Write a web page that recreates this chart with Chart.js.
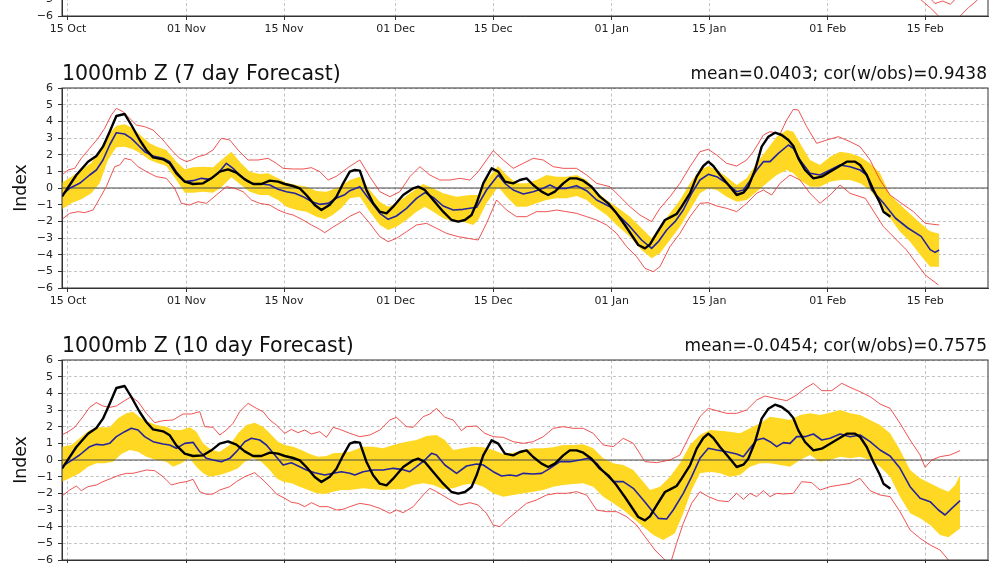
<!DOCTYPE html>
<html><head><meta charset="utf-8">
<script src="https://cdn.jsdelivr.net/npm/chart.js@4"></script>
<style>
html,body{margin:0;padding:0;background:#fff;overflow:hidden;width:1000px;height:563px;position:relative;}
.panel{position:absolute;left:0;width:1000px;height:272px;}
canvas{display:block;}
</style></head><body>
<div class="panel" style="top:-216px"><canvas id="c0" width="1000" height="272"></canvas></div>
<div class="panel" style="top:56px"><canvas id="c1" width="1000" height="272"></canvas></div>
<div class="panel" style="top:328px"><canvas id="c2" width="1000" height="272"></canvas></div>
<script>
// x = days since 15 Oct
const tickDays = [0, 17, 31, 47, 61, 78, 92, 109, 123];
const tickLabels = ['15 Oct', '01 Nov', '15 Nov', '01 Dec', '15 Dec', '01 Jan', '15 Jan', '01 Feb', '15 Feb'];
const xMin = -0.86, xMax = 132.0;

const titles = ['1000mb Z (7 day Forecast)', '1000mb Z (10 day Forecast)'];
const stats = ['mean=0.0403; cor(w/obs)=0.9438', 'mean=-0.0454; cor(w/obs)=0.7575'];

// observed index (black), same in both panels
const obs = [[-0.86,-0.52],[1.2,0.78],[2.87,1.58],[4.07,1.92],[5.02,2.48],[5.98,3.38],[6.94,4.32],[8.13,4.44],[9.09,3.78],[10.29,2.88],[11.24,2.28],[12.2,1.84],[13.64,1.72],[14.6,1.48],[15.55,0.88],[16.75,0.38],[17.94,0.24],[19.38,0.28],[20.57,0.58],[21.77,0.98],[22.97,1.12],[24.16,0.92],[25.36,0.52],[26.56,0.24],[27.75,0.24],[28.95,0.44],[30.14,0.38],[31.1,0.24],[32.3,0.12],[33.25,-0.02],[34.2,-0.42],[35.4,-1.02],[36.36,-1.32],[37.56,-1.0],[38.52,-0.52],[39.48,0.28],[40.43,0.98],[41.15,1.08],[41.87,1.04],[42.83,-0.12],[43.78,-0.92],[44.74,-1.42],[45.7,-1.52],[46.65,-1.12],[48.09,-0.42],[49.53,-0.02],[50.24,0.08],[51.2,-0.12],[52.4,-0.72],[53.83,-1.42],[55.03,-1.92],[55.99,-2.02],[56.95,-1.92],[57.9,-1.62],[58.62,-0.92],[59.58,0.28],[60.78,1.18],[61.73,0.98],[62.69,0.38],[63.88,0.28],[64.84,0.48],[65.8,0.58],[66.75,0.18],[67.95,-0.22],[68.9,-0.42],[69.86,-0.22],[71.06,0.28],[72.0,0.58],[72.97,0.58],[73.93,0.44],[75.12,0.08],[76.32,-0.52],[77.51,-0.92],[78.71,-1.52],[79.9,-2.22],[80.86,-2.82],[81.82,-3.42],[82.78,-3.62],[83.5,-3.38],[84.45,-2.72],[85.65,-1.92],[86.6,-1.72],[87.32,-1.56],[88.04,-1.12],[89.24,-0.32],[90.2,0.68],[91.15,1.32],[91.87,1.58],[92.59,1.32],[93.55,0.78],[94.98,0.08],[95.94,-0.42],[96.9,-0.28],[97.61,0.08],[98.57,1.08],[99.53,2.48],[100.49,3.08],[101.44,3.32],[102.4,3.18],[103.36,2.88],[104.07,2.52],[104.79,1.78],[105.75,1.08],[106.95,0.58],[108.14,0.68],[109.34,0.98],[110.54,1.28],[111.73,1.58],[112.93,1.58],[113.65,1.38],[114.6,0.78],[115.56,-0.12],[116.52,-0.92],[117.0,-1.42],[118.0,-1.72]];

// 7 day forecast panel
const mean7 = [[-0.86,-0.42],[0.24,-0.02],[1.67,0.28],[3.11,0.78],[4.07,1.08],[5.02,1.68],[5.98,2.58],[6.94,3.32],[8.13,3.24],[9.09,2.98],[10.05,2.58],[11.0,2.18],[12.2,1.92],[13.64,1.78],[14.6,1.58],[15.55,0.98],[16.75,0.38],[17.94,0.44],[19.14,0.58],[20.33,0.52],[21.53,0.88],[22.73,1.48],[23.68,1.18],[24.64,0.78],[25.84,0.38],[26.79,0.24],[27.75,0.24],[28.95,0.18],[30.14,-0.08],[31.34,-0.22],[32.54,-0.32],[33.73,-0.52],[34.93,-0.82],[36.12,-0.98],[37.32,-0.92],[38.52,-0.6],[39.71,-0.4],[40.43,-0.16],[41.87,0.08],[43.3,-0.72],[44.74,-1.52],[45.94,-1.88],[47.13,-1.68],[48.57,-1.22],[50.0,-0.62],[51.2,-0.28],[52.4,-0.56],[53.83,-1.08],[55.27,-1.32],[56.7,-1.28],[58.62,-1.16],[60.05,-0.12],[61.73,0.78],[62.69,0.28],[63.88,-0.12],[65.32,-0.36],[66.75,-0.22],[68.19,-0.02],[69.15,0.18],[70.1,-0.02],[71.54,-0.02],[72.97,0.14],[74.41,-0.16],[75.85,-0.72],[77.76,-1.12],[79.19,-1.72],[80.63,-2.32],[82.3,-3.12],[83.74,-3.62],[84.7,-3.22],[85.89,-2.52],[87.09,-2.02],[88.28,-1.32],[89.48,-0.32],[90.67,0.48],[91.87,0.82],[93.07,0.68],[94.5,0.28],[95.94,-0.22],[96.9,-0.12],[97.85,0.44],[98.81,1.08],[99.77,1.58],[100.72,1.58],[101.92,2.08],[103.36,2.58],[104.07,2.38],[105.03,1.68],[106.46,0.88],[107.9,0.78],[109.34,1.08],[110.77,1.38],[112.21,1.28],[113.64,1.08],[114.6,0.78],[115.3,-0.1],[117.0,-0.9],[118.7,-1.8],[120.5,-2.4],[122.4,-2.9],[123.7,-3.7],[124.4,-3.86],[125.0,-3.72]];
const bandHi7 = [[-0.86,0.32],[0.48,0.68],[1.91,1.08],[3.35,1.52],[4.55,2.28],[5.74,3.18],[6.94,3.74],[8.13,3.82],[9.33,3.58],[10.53,3.12],[11.72,2.68],[12.92,2.44],[14.11,2.28],[15.55,1.58],[16.75,1.12],[17.94,1.24],[19.38,1.28],[20.81,1.24],[22.01,1.68],[23.44,2.18],[24.64,1.58],[26.08,0.98],[27.51,0.84],[28.71,0.88],[30.14,0.58],[31.34,0.32],[32.78,0.18],[34.21,0.08],[35.65,-0.18],[37.08,-0.22],[39.0,0.08],[40.43,0.48],[41.87,0.68],[43.3,-0.12],[44.74,-0.82],[45.94,-1.12],[47.13,-0.92],[49.05,-0.32],[50.96,0.24],[52.4,-0.02],[53.83,-0.32],[55.75,-0.52],[57.66,-0.42],[58.86,-0.42],[60.05,0.48],[61.73,1.32],[62.92,0.78],[64.35,0.28],[65.79,0.28],[67.22,0.48],[68.66,0.78],[70.1,0.68],[71.54,0.68],[72.97,0.78],[74.41,0.48],[75.85,-0.22],[77.28,-0.72],[78.71,-1.12],[80.63,-1.72],[82.3,-2.42],[83.74,-3.02],[84.93,-2.32],[86.37,-1.52],[87.8,-0.72],[89.24,0.28],[90.67,1.08],[91.87,1.32],[93.07,1.08],[94.5,0.68],[95.94,0.18],[97.37,0.58],[98.81,1.48],[100.24,2.28],[101.68,3.08],[103.12,3.48],[104.07,3.38],[105.03,2.68],[106.46,1.68],[107.9,1.38],[109.34,1.88],[110.77,2.18],[112.21,2.08],[113.64,1.88],[115.08,1.48],[116.51,0.88],[117.95,-0.4],[119.38,-1.0],[120.82,-1.55],[122.26,-2.1],[123.69,-2.6],[125.0,-2.75]];
const bandLo7 = [[-0.86,-1.28],[0.48,-0.92],[1.91,-0.68],[3.35,-0.32],[4.55,0.28],[5.74,1.68],[6.94,2.44],[8.13,2.48],[9.33,2.32],[10.53,2.04],[11.72,1.68],[12.92,1.48],[14.11,1.32],[15.55,0.48],[16.75,-0.28],[17.94,-0.28],[19.38,-0.22],[20.81,-0.28],[22.01,0.04],[23.44,0.64],[24.64,0.24],[26.08,-0.22],[27.51,-0.42],[28.71,-0.42],[30.14,-0.72],[31.34,-1.12],[32.78,-1.32],[34.21,-1.42],[35.65,-1.72],[36.84,-1.88],[38.04,-1.6],[39.23,-1.2],[40.43,-0.62],[41.87,-0.52],[43.3,-1.42],[44.74,-2.22],[45.94,-2.52],[47.13,-2.32],[48.57,-1.92],[50.0,-1.42],[51.2,-1.12],[52.4,-1.42],[53.83,-1.82],[55.27,-2.02],[56.7,-2.02],[58.14,-2.22],[58.86,-1.92],[60.05,-0.92],[61.73,0.08],[62.92,-0.52],[64.35,-1.12],[65.79,-1.12],[67.22,-0.92],[68.66,-0.72],[70.1,-0.62],[71.54,-0.62],[72.97,-0.48],[74.41,-0.72],[75.85,-1.22],[77.28,-1.62],[78.71,-2.22],[80.63,-2.92],[82.3,-3.72],[83.74,-4.22],[84.93,-3.92],[86.37,-3.12],[87.8,-2.32],[89.24,-1.32],[90.67,-0.32],[91.87,-0.02],[93.07,-0.12],[94.5,-0.52],[95.94,-0.82],[97.37,-0.72],[98.81,-0.22],[100.24,0.28],[101.68,0.78],[103.12,1.08],[104.07,0.88],[105.03,0.48],[106.46,0.08],[107.9,0.08],[109.34,0.38],[110.77,0.48],[112.21,0.48],[113.64,0.28],[115.08,-0.12],[116.51,-0.92],[117.95,-1.82],[119.38,-2.62],[120.82,-3.22],[122.26,-4.0],[123.69,-4.72],[125.0,-4.72]];
const hi7 = [[-0.86,0.78],[0,1.08],[0.96,1.18],[1.91,1.78],[3.11,2.38],[4.31,2.98],[5.26,3.58],[6.22,4.38],[6.94,4.78],[7.89,4.58],[9.09,4.08],[9.81,3.78],[11.0,3.68],[12.2,3.48],[13.64,2.88],[14.83,2.28],[16.03,1.78],[16.99,1.58],[17.7,1.68],[18.66,1.88],[19.62,1.98],[20.81,2.28],[22.01,2.98],[23.21,2.88],[24.4,2.28],[25.84,1.68],[27.27,1.68],[28.71,1.78],[29.9,1.48],[30.86,1.18],[32.3,1.14],[33.73,1.14],[34.93,1.22],[36.12,0.98],[37.32,0.48],[38.5,0.7],[40.43,1.3],[41.87,1.68],[43.3,0.68],[44.74,-0.22],[46.18,-0.52],[47.61,-0.22],[49.05,0.68],[50.48,1.28],[51.92,0.78],[53.35,0.48],[54.79,0.48],[56.22,0.58],[57.66,0.48],[58.86,0.98],[60.05,1.68],[61.01,2.24],[62.45,1.68],[63.88,1.18],[65.32,1.48],[66.75,1.78],[68.19,1.68],[69.62,1.28],[71.06,1.18],[72.97,1.18],[74.41,0.78],[75.85,0.28],[77.76,0.08],[79.19,-0.52],[80.63,-1.12],[82.06,-1.62],[83.74,-2.02],[84.93,-1.22],[86.37,-0.52],[87.8,0.28],[89.24,1.28],[90.67,2.18],[91.87,2.32],[93.07,1.98],[94.5,1.48],[95.94,1.32],[97.37,1.68],[98.33,2.18],[99.77,3.18],[100.72,3.38],[102.16,3.24],[103.12,4.08],[104.07,4.72],[104.79,4.68],[105.99,3.68],[107.42,2.68],[108.86,2.88],[110.53,3.08],[112.21,2.78],[113.64,2.48],[115.08,1.68],[116.51,0.48],[117.95,-0.42],[119.6,-0.92],[121.3,-1.42],[123.0,-2.12],[125.0,-2.22]];
const lo7 = [[-0.86,-1.88],[0.24,-1.52],[1.44,-1.42],[2.39,-1.48],[3.59,-1.32],[4.55,-0.62],[5.5,0.08],[6.7,1.28],[7.42,1.38],[8.13,1.78],[9.09,1.68],[10.05,1.28],[11.24,0.98],[12.68,0.68],[14.11,0.58],[15.31,-0.02],[16.27,-0.92],[17.46,-1.02],[18.66,-0.82],[19.86,-0.92],[21.29,-0.42],[22.73,0.08],[23.92,-0.02],[25.12,-0.22],[26.32,-0.72],[27.51,-0.92],[28.95,-1.02],[30.14,-1.32],[31.34,-1.52],[32.3,-1.62],[33.73,-1.92],[34.93,-2.22],[36.12,-2.48],[36.84,-2.68],[38.0,-2.35],[39.2,-2.05],[40.43,-1.7],[41.87,-1.42],[43.3,-2.12],[44.74,-2.92],[45.94,-3.22],[47.13,-3.02],[48.57,-2.62],[50.0,-2.22],[51.44,-2.12],[52.88,-2.42],[54.31,-2.72],[55.99,-2.92],[57.42,-3.02],[58.86,-3.12],[60.05,-2.12],[61.49,-0.72],[62.92,-1.32],[64.35,-1.72],[65.79,-1.72],[67.22,-1.42],[68.66,-1.42],[70.1,-1.32],[71.54,-1.42],[72.97,-1.52],[74.41,-1.72],[75.85,-1.92],[77.28,-2.22],[78.71,-2.72],[80.15,-3.52],[81.58,-4.12],[82.78,-4.82],[83.97,-5.02],[84.93,-4.72],[86.37,-3.52],[87.8,-2.72],[89.24,-1.72],[90.67,-0.92],[91.87,-0.88],[93.07,-1.08],[94.5,-1.22],[95.94,-1.42],[97.37,-0.92],[98.81,-0.32],[99.77,-0.12],[100.96,-0.42],[102.16,0.28],[103.6,0.78],[105.03,0.48],[106.46,-0.32],[107.9,-0.92],[109.34,-0.42],[110.77,0.18],[112.21,-0.32],[113.64,-0.52],[114.4,-0.62],[117.0,-2.32],[120.3,-3.72],[123.0,-5.22],[124.9,-5.82]];

// 10 day forecast panel
const mean10 = [[-0.86,-0.4],[0.24,-0.1],[1.67,0.3],[3.11,0.8],[4.07,0.94],[5.02,0.9],[5.98,1.0],[6.94,1.4],[8.13,1.7],[9.09,1.9],[10.05,1.8],[11.0,1.4],[12.2,1.1],[13.64,0.96],[14.59,0.9],[15.55,0.7],[16.75,1.0],[17.94,1.06],[18.9,0.5],[19.86,0.1],[20.81,0],[22.01,-0.1],[23.21,0.1],[24.16,0.5],[25.36,1.1],[26.32,1.3],[27.51,1.2],[28.47,0.9],[29.67,0.3],[30.86,-0.3],[32.06,-0.16],[33.25,-0.4],[34.21,-0.6],[35.41,-0.76],[36.84,-0.9],[38.04,-0.8],[39.23,-0.7],[40.43,-0.8],[41.15,-0.9],[42.35,-0.7],[43.78,-0.6],[45.22,-0.6],[46.66,-0.5],[47.85,-0.56],[49.05,-0.7],[50.0,-0.4],[51.2,0],[52.16,0.4],[52.88,0.3],[54.07,-0.3],[55.75,-0.8],[57.18,-0.36],[58.62,-0.24],[59.58,-0.3],[61.01,-0.7],[62.21,-0.96],[63.4,-0.9],[64.36,-0.96],[65.32,-0.8],[66.75,-0.84],[67.95,-0.8],[69.15,-0.5],[70.58,-0.1],[72.02,-0.1],[73.45,0],[74.65,0.1],[75.85,-0.2],[77.04,-0.8],[78.24,-1.3],[79.67,-1.3],[81.11,-1.7],[82.54,-2.4],[83.5,-2.9],[84.7,-3.5],[85.89,-3.54],[86.84,-3.0],[88.28,-2.0],[89.48,-1.0],[90.67,0.1],[91.87,0.7],[93.07,0.6],[94.5,0.5],[95.94,0.36],[96.9,0.2],[97.85,0.7],[98.81,1.2],[99.77,1.3],[100.72,1.1],[101.68,0.8],[102.64,1.04],[103.6,1.0],[104.55,1.4],[105.75,1.4],[106.95,1.56],[108.14,1.2],[109.34,1.3],[110.77,1.56],[112.21,1.4],[113.64,1.5],[115.08,1.1],[116.51,0.6],[117.95,0.24],[119.38,-0.5],[120.82,-1.6],[122.26,-2.3],[123.69,-2.5],[124.89,-3.0],[125.84,-3.3],[126.8,-2.9],[128.0,-2.44]];
const bandHi10 = [[-0.86,0.8],[0.48,0.9],[1.67,1.3],[3.11,1.8],[4.55,1.96],[5.98,1.96],[7.18,2.5],[8.37,2.8],[9.33,2.9],[10.29,2.56],[11.48,2.3],[12.68,2.1],[14.11,2.0],[15.07,1.8],[16.27,1.8],[17.46,1.96],[18.42,1.7],[19.38,1.0],[20.57,0.6],[21.77,0.5],[23.21,0.9],[24.4,1.6],[25.6,2.1],[26.79,2.24],[27.99,2.0],[28.95,1.6],[30.14,1.1],[31.1,0.9],[32.3,0.8],[33.49,0.6],[34.69,0.36],[35.89,0.2],[37.08,0.24],[38.04,0.4],[39.23,0.44],[40.43,0.5],[42.35,0.8],[43.78,0.8],[45.22,0.7],[46.66,0.9],[48.57,1.1],[50.0,1.2],[51.44,1.44],[52.88,1.5],[54.07,1.2],[55.27,0.6],[56.7,0.7],[58.14,0.8],[59.58,0.76],[61.01,0.6],[62.45,0.36],[63.88,0.44],[65.32,0.6],[66.75,0.7],[68.19,0.7],[69.62,0.76],[71.06,0.9],[72.49,0.9],[73.93,0.94],[75.36,0.7],[76.8,0.1],[78.24,-0.2],[79.67,-0.3],[81.11,-0.6],[82.54,-1.3],[83.5,-1.8],[84.93,-1.6],[86.37,-1.0],[87.8,-0.2],[89.24,0.9],[90.67,1.5],[92.11,1.8],[93.55,1.76],[94.98,1.7],[96.42,1.6],[97.85,1.9],[99.29,2.2],[100.72,2.6],[102.16,2.5],[103.6,2.4],[105.03,2.7],[106.46,2.8],[107.9,2.7],[109.34,2.84],[110.77,3.0],[112.21,2.8],[113.64,2.7],[115.08,2.4],[116.51,2.1],[117.95,1.6],[119.38,0.6],[120.82,-0.6],[122.26,-1.1],[123.69,-1.4],[125.12,-1.7],[126.32,-1.9],[127.28,-1.5],[128.0,-0.9]];
const bandLo10 = [[-0.86,-1.3],[0.24,-1.1],[1.67,-0.8],[2.87,-0.4],[4.07,-0.2],[5.26,-0.2],[6.46,-0.1],[7.66,0.36],[8.85,0.6],[10.05,0.5],[11.24,0.2],[12.68,0],[14.11,-0.1],[15.07,-0.4],[16.27,-0.2],[17.46,0.1],[18.42,-0.4],[19.38,-0.8],[20.33,-1.0],[21.77,-0.9],[23.21,-0.7],[24.4,-0.5],[25.36,-0.1],[26.56,0.1],[27.75,-0.1],[28.95,-0.6],[29.9,-1.1],[30.86,-1.3],[32.06,-1.4],[33.25,-1.6],[34.45,-1.8],[35.65,-2.0],[36.84,-2.04],[38.04,-1.9],[39.23,-1.8],[40.43,-1.8],[42.35,-1.7],[43.78,-1.76],[45.22,-1.8],[46.66,-1.76],[48.09,-1.76],[49.52,-1.5],[50.96,-1.4],[52.4,-1.5],[53.83,-1.76],[55.27,-1.7],[56.7,-1.5],[58.14,-1.4],[59.58,-1.6],[61.01,-2.0],[62.45,-2.2],[63.88,-2.1],[65.32,-2.0],[66.75,-1.9],[68.19,-1.8],[69.62,-1.6],[71.06,-1.5],[72.49,-1.44],[73.93,-1.4],[75.36,-1.6],[76.8,-2.2],[78.24,-2.6],[79.67,-3.0],[81.11,-3.5],[82.54,-4.0],[83.98,-4.5],[85.41,-4.8],[87.08,-4.4],[88.28,-3.2],[89.48,-1.8],[90.67,-0.8],[92.11,-0.7],[93.55,-0.8],[94.98,-1.0],[96.42,-0.9],[97.85,-0.4],[99.29,-0.2],[100.72,-0.2],[102.16,-0.3],[103.6,-0.4],[105.03,0],[106.46,0.3],[107.9,-0.1],[109.34,0],[110.77,0.2],[112.21,0.1],[113.64,0.2],[115.08,0],[116.51,-0.4],[117.95,-1.0],[119.38,-2.2],[120.82,-3.2],[122.26,-3.5],[123.69,-3.9],[125.12,-4.5],[126.32,-4.64],[128.0,-4.1]];
const hi10 = [[-0.86,1.5],[0,1.7],[0.96,1.96],[2.15,2.6],[3.11,3.16],[4.07,3.44],[5.02,3.24],[5.98,3.16],[6.94,3.24],[7.89,3.5],[9.09,3.8],[10.05,3.5],[11.24,2.8],[12.44,2.24],[13.64,2.36],[15.07,2.4],[16.51,2.76],[17.7,2.76],[18.9,2.9],[19.62,2.0],[20.81,1.96],[21.77,1.5],[22.73,1.8],[23.68,2.2],[24.64,2.9],[25.84,3.4],[27.03,3.1],[27.99,2.9],[28.95,2.4],[29.9,2.1],[31.1,1.6],[32.06,1.84],[33.01,1.64],[33.97,1.8],[34.93,1.56],[36.12,1.7],[37.08,1.36],[38.04,1.96],[39.0,1.84],[40.43,1.6],[41.87,1.4],[43.3,1.5],[44.74,1.8],[46.18,2.4],[47.13,2.56],[48.57,2.0],[49.53,1.96],[50.96,2.6],[51.92,2.76],[52.88,3.1],[54.07,2.56],[55.27,2.4],[56.46,1.76],[57.18,2.0],[58.62,2.04],[59.81,1.6],[61.01,1.4],[62.45,1.36],[63.88,1.1],[65.32,1.0],[66.75,1.1],[68.19,1.4],[69.62,1.9],[71.06,2.0],[72.49,1.9],[73.93,1.9],[75.36,1.6],[76.8,0.9],[78.24,0.8],[79.67,1.3],[81.11,1.0],[82.78,-0.1],[84.46,-0.16],[86.37,0],[87.8,0.3],[89.24,1.5],[90.67,2.6],[91.87,3.1],[93.07,2.96],[94.5,2.8],[95.94,2.8],[97.37,3.0],[98.81,3.6],[100.0,3.84],[101.44,3.7],[103.12,3.56],[104.55,3.9],[105.75,4.3],[106.95,4.6],[108.14,4.16],[109.58,4.16],[111.01,4.6],[112.21,4.36],[113.64,4.1],[115.08,3.8],[116.51,3.36],[117.95,3.1],[119.38,2.2],[120.82,1.2],[122.26,0.3],[122.97,-0.44],[123.93,0],[125.12,0.2],[126.56,0.3],[128.0,0.56]];
const lo10 = [[-0.86,-2.16],[0.24,-1.8],[1.2,-1.56],[1.91,-1.84],[2.87,-1.6],[4.07,-1.5],[5.02,-1.3],[6.22,-1.1],[7.42,-0.9],[8.37,-0.8],[9.33,-0.8],[10.29,-0.7],[11.24,-0.6],[12.44,-0.64],[13.64,-1.0],[14.83,-1.5],[16.03,-1.36],[16.99,-1.3],[17.94,-1.16],[18.9,-1.9],[19.86,-2.06],[20.81,-2.04],[21.77,-1.8],[23.21,-1.6],[24.16,-1.3],[25.36,-1.0],[26.79,-0.76],[27.99,-1.2],[29.19,-1.7],[29.9,-2.04],[31.1,-2.3],[32.06,-2.54],[33.01,-2.6],[33.97,-2.8],[34.93,-2.56],[36.12,-2.8],[37.32,-2.8],[38.52,-3.0],[39.47,-2.96],[40.43,-2.8],[41.87,-2.6],[43.3,-2.7],[44.74,-2.9],[46.18,-3.2],[47.13,-3.0],[48.09,-3.16],[49.53,-2.8],[50.96,-2.1],[51.92,-1.7],[52.88,-1.9],[54.07,-2.2],[55.27,-2.5],[56.22,-2.7],[57.66,-2.56],[58.86,-2.7],[60.05,-3.2],[61.01,-3.9],[61.97,-4.0],[62.92,-3.6],[64.36,-3.1],[65.79,-2.6],[67.22,-2.4],[68.66,-2.1],[70.1,-2.0],[71.54,-2.0],[72.97,-1.9],[74.41,-2.1],[75.85,-3.0],[77.28,-3.1],[78.71,-3.1],[80.15,-3.4],[81.58,-3.9],[82.78,-4.6],[84.22,-5.4],[85.41,-5.9],[86.37,-6.3],[87.32,-5.0],[88.28,-3.8],[89.48,-2.6],[90.67,-1.9],[91.87,-2.2],[93.31,-2.44],[94.74,-2.5],[95.94,-2.0],[96.9,-2.36],[97.85,-2.0],[98.81,-2.2],[99.77,-1.84],[100.72,-2.2],[101.68,-2.0],[102.64,-2.04],[104.07,-2.0],[105.27,-1.3],[106.71,-1.36],[107.9,-1.8],[109.34,-1.6],[110.77,-1.5],[112.21,-1.4],[113.64,-1.1],[115.08,-1.84],[116.51,-2.1],[117.95,-2.2],[119.38,-3.1],[120.82,-4.2],[122.26,-4.7],[123.69,-5.1],[125.12,-5.4],[126.32,-6.0],[127.0,-6.3]];

// top panel (only its lower edge is visible)
const topLoA = [[119.5,-4.2],[121.0,-4.6],[122.5,-5.07],[123.7,-5.5],[124.9,-6.0],[126.0,-6.5],[127.2,-6.5],[128.0,-6.0],[129.2,-5.5],[130.4,-5.07],[131.5,-4.6]];
const topLoB = [[122.0,-4.6],[123.6,-4.9],[124.4,-5.25],[125.5,-5.1],[126.6,-5.3],[127.5,-4.9],[128.5,-4.5]];

const FONT = "'DejaVu Sans', sans-serif";
Chart.defaults.font.family = FONT;
Chart.defaults.color = '#222';

const pts = arr => arr.map(p => ({x: p[0], y: p[1]}));
const YELLOW = '#FFD824', RED = 'rgb(236,52,52)', BLUE = '#24249c';

const decor = {
  id: 'decor',
  afterDatasetsDraw(chart, args, opts) {
    const {ctx, chartArea: a} = chart;
    ctx.save();
    ctx.strokeStyle = '#333';
    ctx.lineWidth = 1;
    ctx.strokeRect(a.left, a.top, a.right - a.left, a.bottom - a.top);
    ctx.restore();
  },
  afterDraw(chart, args, opts) {
    if (!opts.left) return;
    const {ctx, chartArea: a} = chart;
    ctx.save();
    ctx.fillStyle = '#111';
    ctx.textBaseline = 'alphabetic';
    ctx.font = "20.5px " + FONT;
    ctx.textAlign = 'left';
    ctx.fillText(opts.left, a.left, a.top - 8);
    ctx.font = "17px " + FONT;
    ctx.textAlign = 'right';
    ctx.fillText(opts.right, a.right - 1, a.top - 9);
    ctx.restore();
  }
};

function lineDs(data, color, width, order, extra) {
  return Object.assign({data: pts(data), borderColor: color, borderWidth: width, pointRadius: 0,
    tension: 0, fill: false, order: order, clip: 0, borderJoinStyle: 'round'}, extra || {});
}

function makePanel(id, datasets, left, right) {
  new Chart(document.getElementById(id), {
    type: 'line',
    data: {datasets: datasets},
    plugins: [decor],
    options: {
      responsive: false, animation: false, devicePixelRatio: 1,
      layout: {padding: {top: 32, right: 12, bottom: 0, left: 0}},
      plugins: {legend: {display: false}, tooltip: {enabled: false}, title: {display: false},
        decor: {left: left, right: right}},
      scales: {
        x: {type: 'linear', min: xMin, max: xMax,
          afterBuildTicks: s => { s.ticks = tickDays.map(v => ({value: v})); },
          afterFit: s => { s.height = 40; },
          ticks: {autoSkip: false, maxRotation: 0, minRotation: 0, padding: 3, color: '#222',
            font: {size: 11}, callback: (v, i) => tickLabels[i]},
          grid: {color: '#b4b4b4', lineWidth: 0.8, tickLength: 4, tickColor: '#333', tickWidth: 1},
          border: {display: true, color: '#333', width: 1, dash: [3, 2.5]}
        },
        y: {type: 'linear', min: -6, max: 6,
          afterFit: s => { s.width = 62; },
          ticks: {stepSize: 1, padding: 5, color: '#222', font: {size: 11},
            callback: v => (v < 0 ? '\u2212' + (-v) : String(v))},
          grid: {color: '#b4b4b4', lineWidth: 0.8, tickLength: 4, tickColor: '#333', tickWidth: 1},
          border: {display: true, color: '#333', width: 1, dash: [3, 2.5]},
          title: {display: true, text: 'Index', color: '#111', font: {size: 17.3}, padding: {top: 11, bottom: 0}}
        }
      }
    }
  });
}

function forecastSets(bHi, bLo, hi, lo, mean) {
  return [
    lineDs(bHi, YELLOW, 0, 6, {fill: '+1', backgroundColor: YELLOW}),
    lineDs(bLo, YELLOW, 0, 5),
    lineDs([[xMin, 0], [xMax, 0]], '#4a4a4a', 1, 4),
    lineDs(hi, RED, 0.85, 3),
    lineDs(lo, RED, 0.85, 3),
    lineDs(mean, BLUE, 1.6, 2),
    lineDs(obs, '#000', 2.4, 1)
  ];
}

makePanel('c0', [
  lineDs([[xMin, 0], [xMax, 0]], '#4a4a4a', 1, 4),
  lineDs(topLoA, RED, 0.85, 3),
  lineDs(topLoB, RED, 0.85, 3)
], null, null);
makePanel('c1', forecastSets(bandHi7, bandLo7, hi7, lo7, mean7), titles[0], stats[0]);
makePanel('c2', forecastSets(bandHi10, bandLo10, hi10, lo10, mean10), titles[1], stats[1]);
</script>
</body></html>
